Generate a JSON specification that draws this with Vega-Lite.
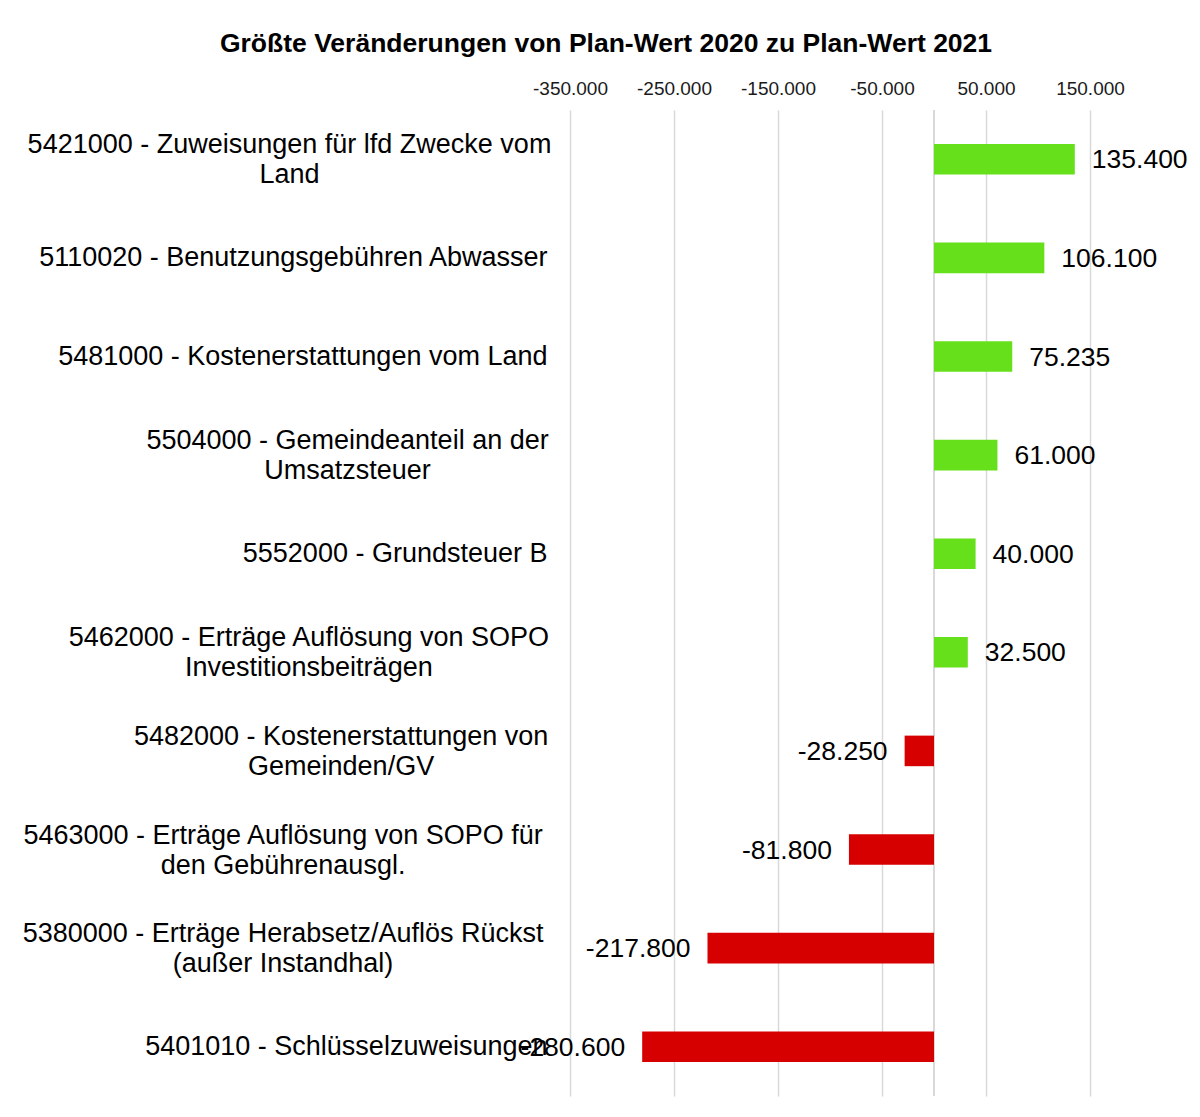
{
  "$schema": "https://vega.github.io/schema/vega-lite/v6.json",
  "width": 520,
  "height": 986,
  "autosize": "none",
  "padding": {"left": 570, "top": 110, "right": 110, "bottom": 21},
  "background": "white",
  "config": {
    "locale": {"number": {"decimal": ",", "thousands": ".", "grouping": [3], "currency": ["", " €"], "minus": "-"}},
    "view": {"stroke": null},
    "font": "Liberation Sans"
  },
  "title": {
    "text": "Größte Veränderungen von Plan-Wert 2020 zu Plan-Wert 2021",
    "font": "Liberation Sans",
    "fontSize": 26.5,
    "fontWeight": "bold",
    "color": "#000000",
    "anchor": "middle",
    "frame": "group",
    "dx": -224,
    "offset": 22
  },
  "data": {
    "values": [
      {"label": "5421000 - Zuweisungen für lfd Zwecke vom\nLand", "value": 135400},
      {"label": "5110020 - Benutzungsgebühren Abwasser", "value": 106100},
      {"label": "5481000 - Kostenerstattungen vom Land", "value": 75235},
      {"label": "5504000 - Gemeindeanteil an der\nUmsatzsteuer", "value": 61000},
      {"label": "5552000 - Grundsteuer B", "value": 40000},
      {"label": "5462000 - Erträge Auflösung von  SOPO\nInvestitionsbeiträgen", "value": 32500},
      {"label": "5482000 - Kostenerstattungen von\nGemeinden/GV", "value": -28250},
      {"label": "5463000 - Erträge Auflösung von  SOPO für\nden Gebührenausgl.", "value": -81800},
      {"label": "5380000 - Erträge Herabsetz/Auflös Rückst\n(außer Instandhal)", "value": -217800},
      {"label": "5401010 - Schlüsselzuweisungen", "value": -280600}
    ]
  },
  "encoding": {
    "y": {
      "field": "label",
      "type": "nominal",
      "sort": null,
      "scale": {"paddingInner": 0, "paddingOuter": 0},
      "axis": {
        "title": null,
        "orient": "left",
        "domain": false,
        "ticks": false,
        "grid": false,
        "labelExpr": "split(datum.value, '\\n')",
        "labelAlign": {"condition": {"test": "indexof(datum.value, '\\n') >= 0", "value": "center"}, "value": "right"},
        "labelOffset": {"condition": {"test": "indexof(datum.value, '\\n') >= 0", "value": -14}, "value": 0},
        "labelPadding": {"expr": "23 + (indexof(datum.value, '\\n') >= 0 ? length(split(datum.value, '\\n')[0]) * 6.45 : 0)"},
        "labelFont": "Liberation Sans",
        "labelFontSize": 27,
        "labelLineHeight": 30,
        "labelColor": "#000000",
        "labelLimit": 0
      }
    },
    "x": {
      "field": "value",
      "type": "quantitative",
      "scale": {"domain": [-350000, 150000], "nice": false, "zero": false},
      "axis": {
        "title": null,
        "orient": "top",
        "values": [-350000, -250000, -150000, -50000, 50000, 150000],
        "format": ",d",
        "domain": false,
        "ticks": false,
        "grid": true,
        "gridColor": "#d9d9d9",
        "gridWidth": 1.5,
        "labelOverlap": false,
        "labelFlush": false,
        "labelFont": "Liberation Sans",
        "labelFontSize": 19,
        "labelColor": "#1a1a1a",
        "labelPadding": 12
      }
    }
  },
  "layer": [
    {
      "mark": {"type": "rule", "color": "#d9d9d9", "strokeWidth": 1.5},
      "encoding": {"x": {"datum": 0, "type": "quantitative"}, "y": null}
    },
    {
      "mark": {"type": "bar", "height": {"band": 0.31}},
      "encoding": {
        "color": {"condition": {"test": "datum.value < 0", "value": "#d60000"}, "value": "#66e01a"}
      }
    },
    {
      "transform": [{"filter": "datum.value >= 0"}],
      "mark": {"type": "text", "align": "left", "baseline": "middle", "dx": 17, "dy": 1, "fontSize": 26.5, "font": "Liberation Sans", "color": "#000000"},
      "encoding": {"text": {"field": "value", "type": "quantitative", "format": ",d"}}
    },
    {
      "transform": [{"filter": "datum.value < 0"}],
      "mark": {"type": "text", "align": "right", "baseline": "middle", "dx": -17, "dy": 1, "fontSize": 26.5, "font": "Liberation Sans", "color": "#000000"},
      "encoding": {"text": {"field": "value", "type": "quantitative", "format": ",d"}}
    }
  ]
}
